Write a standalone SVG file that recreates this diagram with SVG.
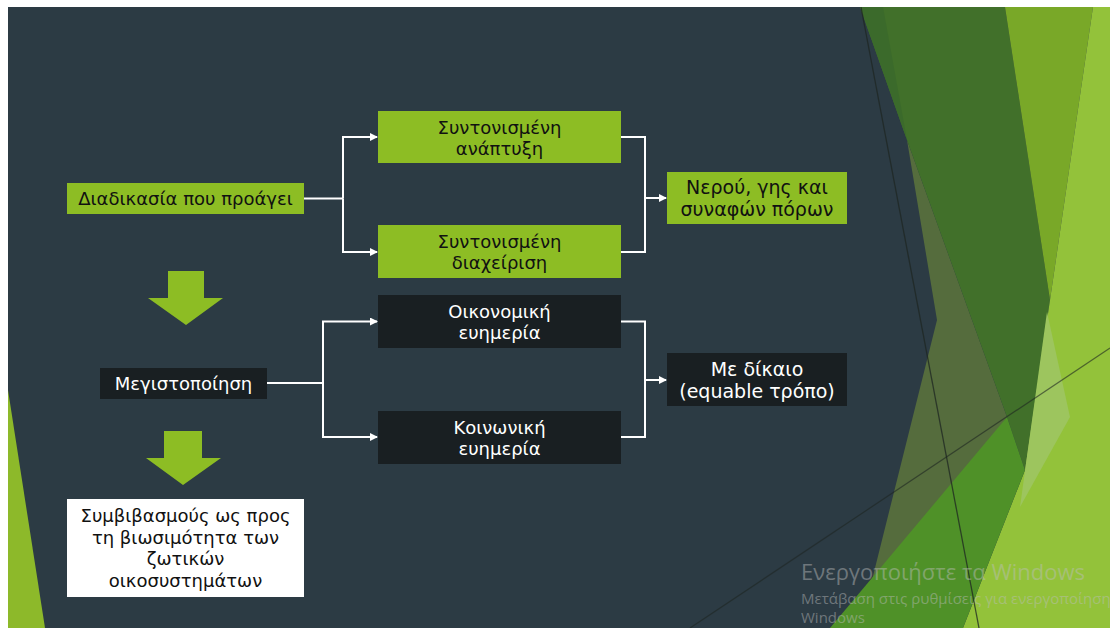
<svg xmlns="http://www.w3.org/2000/svg" width="1110" height="628" viewBox="0 0 1110 628">
<defs>
<style>
.g{fill:#8DBD24}
.d{fill:#191F22}
.w{fill:#FFFFFF}
.tb{font-family:"DejaVu Sans","Noto Sans",sans-serif;font-size:18px;fill:#111111;text-anchor:middle}
.tw{font-family:"DejaVu Sans","Noto Sans",sans-serif;font-size:18px;fill:#FFFFFF;text-anchor:middle}
.big{font-size:19px}
.c{fill:none;stroke:#FFFFFF;stroke-width:2}
.wm{font-family:"Open Sans","Noto Sans",sans-serif;fill:#BEBEBE;opacity:0.45}
</style>
<marker id="ah" viewBox="0 0 8 8" refX="7" refY="4" markerWidth="8" markerHeight="8" markerUnits="userSpaceOnUse" orient="auto">
<path d="M0,0 L8,4 L0,8 z" fill="#FFFFFF"/>
</marker>
</defs>
<rect x="0" y="0" width="1110" height="628" fill="#FFFFFF"/>
<rect x="8" y="7" width="1102" height="621" fill="#2C3B44"/>
<g id="decor">
<polygon points="8,390 45,628 8,628" fill="#8DB92A"/>
<polygon points="907,140 972,320 1007,417 860,628 937,320" fill="#556C3D"/>
<polygon points="860,7 1005,7 1050,300 1025,470 1007,417 972,320 907,140" fill="#41702A"/>
<polygon points="860,7 883,7 907,140" fill="#3B6A2B"/>
<polygon points="1005,7 1093,7 1050,300" fill="#79A828"/>
<polygon points="1093,7 1110,7 1110,628 963,628 1025,470 1050,300" fill="#93C23A"/>
<polygon points="1047,312 1070,417 1020,507" fill="#9DC55E"/>
<polygon points="830,628 1007,417 1025,470 963,628" fill="#4F9128"/>
<line x1="861" y1="7" x2="979" y2="628" stroke="#1E2622" stroke-width="1.3" opacity="0.75"/>
<line x1="690" y1="628" x2="1110" y2="348" stroke="#1E2622" stroke-width="1.2" opacity="0.6"/>
</g>
<g id="connectors">
<path class="c" d="M304,198.5 H343"/>
<path class="c" d="M343,198.5 V137 H377" marker-end="url(#ah)"/>
<path class="c" d="M343,198.5 V252 H377" marker-end="url(#ah)"/>
<path class="c" d="M621,137 H645 V198 H666" marker-end="url(#ah)"/>
<path class="c" d="M621,252 H645 V198"/>
<path class="c" d="M267,383 H323"/>
<path class="c" d="M323,383 V321.5 H377" marker-end="url(#ah)"/>
<path class="c" d="M323,383 V437 H377" marker-end="url(#ah)"/>
<path class="c" d="M621,321.5 H645 V380 H666" marker-end="url(#ah)"/>
<path class="c" d="M621,437 H645 V380"/>
</g>
<g id="n-diadikasia">
<rect class="g" x="67" y="183" width="237" height="31"/>
<text class="tb" x="185.5" y="205">Διαδικασία που προάγει</text>
</g>
<g id="n-anaptyxi">
<rect class="g" x="378" y="111" width="243" height="52"/>
<text class="tb" x="499.5" y="134">Συντονισμένη</text>
<text class="tb" x="499.5" y="155">ανάπτυξη</text>
</g>
<g id="n-diaxeirisi">
<rect class="g" x="378" y="225" width="243" height="53"/>
<text class="tb" x="499.5" y="248">Συντονισμένη</text>
<text class="tb" x="499.5" y="269">διαχείριση</text>
</g>
<g id="n-nerou">
<rect class="g" x="667" y="172" width="180" height="52"/>
<text class="tb big" x="757" y="194">Νερού, γης και</text>
<text class="tb big" x="757" y="216">συναφών πόρων</text>
</g>
<g id="arrow-down-1">
<polygon class="g" points="168,271 204,271 204,298 223,298 186,325 148,298 168,298"/>
</g>
<g id="n-megistopoiisi">
<rect class="d" x="100" y="368" width="167" height="31"/>
<text class="tw" x="183.5" y="390">Μεγιστοποίηση</text>
</g>
<g id="arrow-down-2">
<polygon class="g" points="164,431 202,431 202,458 221,458 183,485 146,458 164,458"/>
</g>
<g id="n-symvivasmous">
<rect class="w" x="67" y="499" width="237" height="98"/>
<text class="tb" x="185.5" y="522">Συμβιβασμούς ως προς</text>
<text class="tb" x="185.5" y="544">τη βιωσιμότητα των</text>
<text class="tb" x="185.5" y="565">ζωτικών</text>
<text class="tb" x="185.5" y="587">οικοσυστημάτων</text>
</g>
<g id="n-oikonomiki">
<rect class="d" x="378" y="295" width="243" height="53"/>
<text class="tw" x="499.5" y="318">Οικονομική</text>
<text class="tw" x="499.5" y="339">ευημερία</text>
</g>
<g id="n-koinoniki">
<rect class="d" x="378" y="411" width="243" height="53"/>
<text class="tw" x="499.5" y="434">Κοινωνική</text>
<text class="tw" x="499.5" y="455">ευημερία</text>
</g>
<g id="n-dikaio">
<rect class="d" x="667" y="353" width="180" height="53"/>
<text class="tw big" x="757" y="376">Με δίκαιο</text>
<text class="tw big" x="757" y="398">(equable τρόπο)</text>
</g>
<g id="watermark">
<text class="wm" x="801" y="580" font-size="22">Ενεργοποιήστε τα Windows</text>
<text class="wm" x="801" y="604" font-size="15">Μετάβαση στις ρυθμίσεις για ενεργοποίηση</text>
<text class="wm" x="801" y="623" font-size="15">Windows</text>
</g>
</svg>
